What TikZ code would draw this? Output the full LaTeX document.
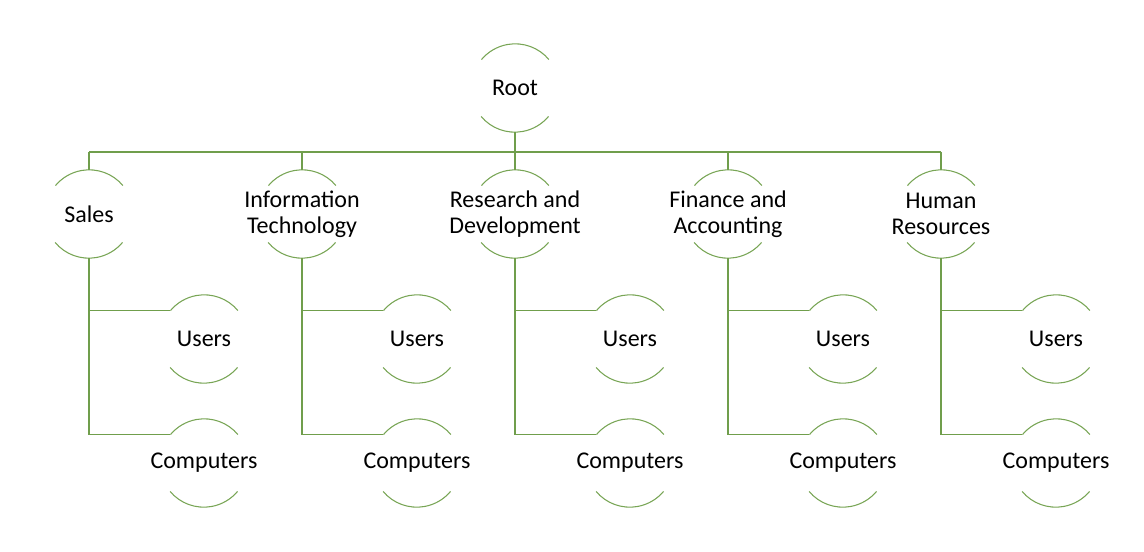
\documentclass[tikz,border=0pt]{standalone}
\usepackage{fontspec}
\setmainfont{Carlito}
\definecolor{lineg}{RGB}{112,158,76}
\definecolor{arcg}{RGB}{120,165,85}
\begin{document}
\begin{tikzpicture}[x=0.75pt,y=-0.75pt,
  unit/.style={circle,draw=none,minimum size=66pt,inner sep=0pt},
  lbl/.style={align=center,inner sep=0pt,font=\fontsize{18}{19.5}\selectfont,text=black},
  conn/.style={draw=lineg,line width=1.1pt},
  bus/.style={draw=lineg,line width=1.5pt},
  arcs/.style={draw=arcg,line width=0.8pt}]
\useasboundingbox (0,0) rectangle (1144,552);
\node[unit] (root) at (515,88) {};
\node[lbl] (root-t) at (root) {Root};
\foreach \n/\x/\t in {s/89/Sales, it/302/{Information\\Technology}, rd/515/{Research and\\Development}, fa/728/{Finance and\\Accounting}, hr/941/{Human\\Resources}}{
  \node[unit] (\n) at (\x,214) {};
  \node[lbl] (\n-t) at (\n) {\t};
  \node[unit] (\n-u) at (\x+115,339) {};
  \node[lbl] (\n-ut) at (\n-u) {Users};
  \node[unit] (\n-c) at (\x+115,463) {};
  \node[lbl] (\n-ct) at (\n-c) {Computers};
}
% arcs
\foreach \n in {root,s,it,rd,fa,hr,s-u,it-u,rd-u,fa-u,hr-u,s-c,it-c,rd-c,fa-c,hr-c}{
  \draw[arcs] (\n.40) arc[start angle=40,end angle=140,radius=33pt];
  \draw[arcs] (\n.220) arc[start angle=220,end angle=320,radius=33pt];
}
% bus
\coordinate (busl) at (89,152);
\coordinate (busr) at (941,152);
\draw[bus] (busl) -- (busr);
\draw[conn] (root.south) -- (root.south |- busl);
\foreach \n in {s,it,rd,fa,hr}{
  \draw[conn] (\n.north |- busl) -- (\n.north);
  \draw[conn] (\n.south) |- (\n-c.140);
  \draw[conn] (\n.south |- \n-u.140) -- (\n-u.140);
}
\end{tikzpicture}
\end{document}
